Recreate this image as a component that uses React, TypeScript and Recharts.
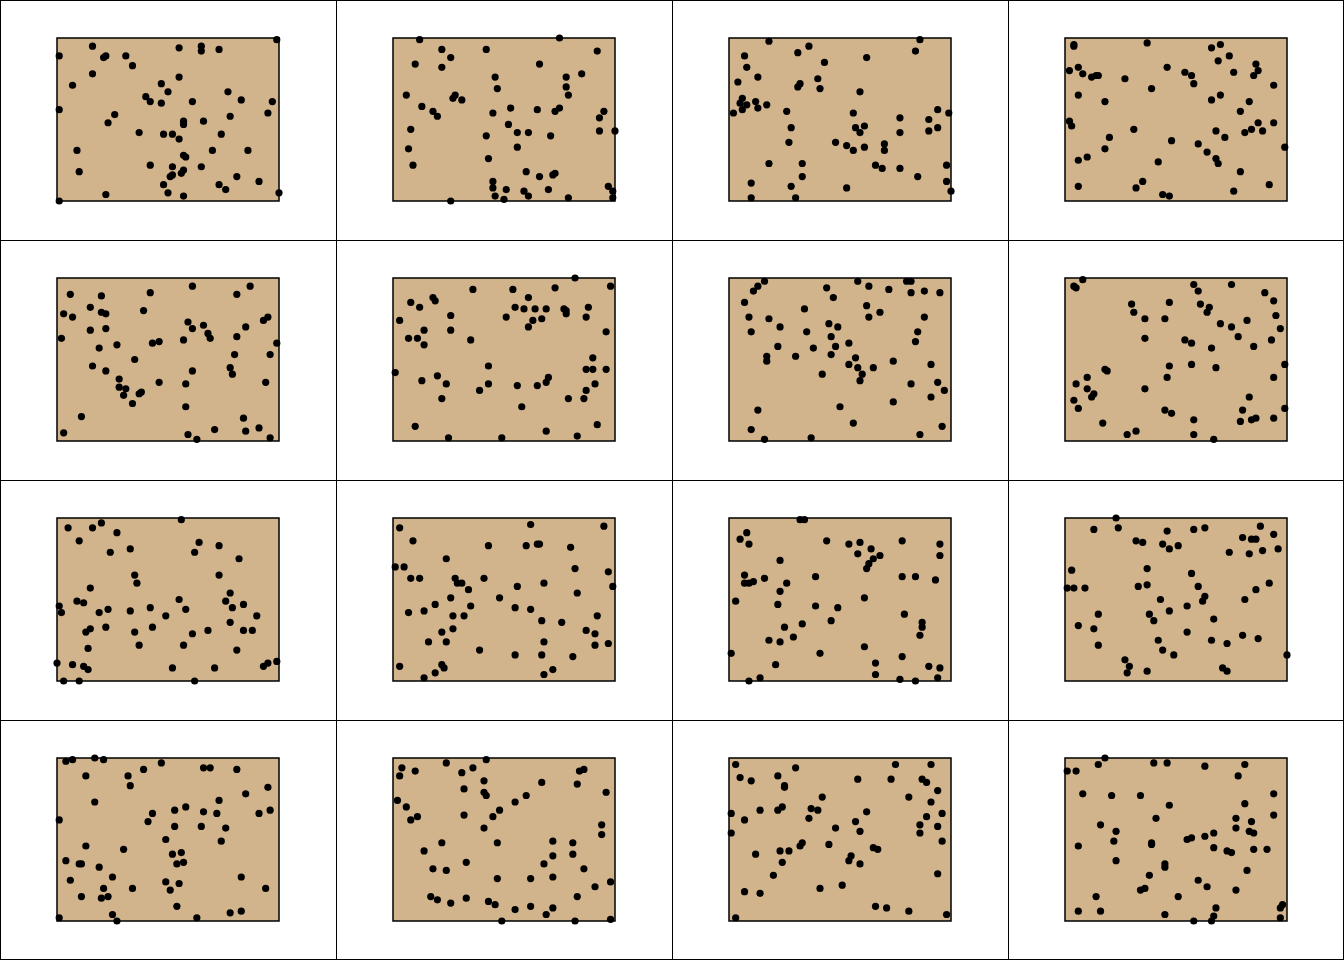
import React from 'react';
import { ReferenceArea, Scatter, ScatterChart, XAxis, YAxis } from 'recharts';

// points, x and y on a 0-100 scale
const panel1 = [
    [99, 99], [16, 95], [55, 94], [65, 95], [65, 92], [73, 93], [1, 89], [21, 88], [22, 89], [31, 89],
    [34, 83], [16, 78], [55, 76], [7, 71], [47, 72], [50, 67], [77, 67], [83, 62], [40, 64], [42, 61],
    [47, 60], [61, 61], [97, 61], [1, 56], [95, 54], [26, 53], [78, 52], [23, 48], [57, 49], [57, 47],
    [66, 49], [37, 42], [48, 41], [52, 41], [74, 41], [55, 38], [9, 31], [70, 31], [86, 31], [57, 28],
    [58, 27], [42, 22], [52, 21], [65, 21], [10, 18], [57, 19], [56, 17], [51, 15], [52, 16], [81, 15],
    [91, 12], [48, 10], [73, 10], [76, 7], [50, 5], [22, 4], [57, 3], [100, 5], [1, 0],
];
const panel2 = [
    [12, 99], [75, 100], [22, 93], [42, 93], [92, 92], [26, 88], [10, 84], [22, 82], [66, 84], [85, 78],
    [78, 76], [46, 76], [47, 69], [78, 70], [79, 65], [6, 65], [28, 65], [27, 63], [31, 62], [13, 58],
    [53, 57], [65, 56], [75, 57], [73, 55], [18, 55], [20, 52], [45, 54], [95, 55], [93, 51], [52, 47],
    [8, 44], [56, 42], [61, 42], [93, 43], [100, 43], [42, 40], [71, 40], [7, 32], [56, 33], [43, 26],
    [9, 22], [60, 18], [66, 15], [72, 16], [73, 17], [45, 12], [45, 8], [51, 7], [59, 6], [61, 3],
    [70, 7], [46, 3], [50, 1], [26, 0], [79, 2], [97, 9], [99, 6], [99, 2],
];
const panel3 = [
    [18, 98], [86, 99], [84, 92], [36, 95], [31, 91], [7, 89], [62, 88], [43, 85], [8, 82], [13, 76],
    [4, 73], [40, 75], [32, 72], [31, 70], [41, 69], [59, 67], [6, 63], [5, 60], [8, 59], [6, 56],
    [2, 54], [12, 61], [13, 57], [17, 59], [26, 55], [56, 54], [94, 56], [99, 54], [77, 51], [90, 50],
    [94, 45], [90, 43], [28, 45], [57, 45], [61, 46], [59, 42], [77, 42], [27, 36], [48, 36], [53, 34],
    [56, 31], [61, 33], [70, 35], [70, 31], [18, 23], [33, 23], [66, 22], [69, 20], [77, 20], [98, 22],
    [85, 15], [33, 15], [10, 11], [98, 12], [100, 6], [28, 9], [53, 8], [10, 2], [30, 2],
];
const panel4 = [
    [4, 96], [4, 95], [37, 97], [66, 94], [70, 96], [74, 89], [69, 86], [86, 84], [87, 80], [85, 77],
    [76, 79], [46, 82], [2, 80], [6, 82], [8, 78], [12, 76], [14, 77], [15, 77], [54, 79], [57, 77],
    [27, 75], [58, 72], [94, 71], [39, 69], [6, 65], [70, 65], [66, 62], [18, 61], [83, 61], [79, 55],
    [2, 49], [3, 46], [87, 48], [84, 44], [89, 43], [81, 42], [94, 48], [31, 44], [68, 43], [72, 39],
    [20, 39], [48, 37], [18, 32], [60, 35], [64, 30], [99, 33], [6, 25], [10, 27], [68, 26], [69, 23],
    [42, 24], [79, 18], [35, 12], [32, 8], [6, 9], [92, 10], [76, 6], [44, 4], [47, 3],
];
const panel5 = [
    [6, 90], [20, 89], [42, 91], [61, 95], [81, 90], [87, 95], [15, 82], [20, 79], [22, 78], [3, 78],
    [7, 76], [39, 80], [59, 73], [61, 69], [66, 71], [93, 74], [95, 76], [85, 70], [15, 68], [22, 69],
    [68, 66], [69, 63], [81, 64], [2, 63], [57, 62], [43, 60], [46, 61], [27, 59], [99, 60], [19, 57],
    [96, 53], [80, 53], [35, 50], [16, 46], [22, 43], [61, 43], [78, 45], [79, 41], [28, 38], [46, 36],
    [58, 35], [94, 36], [28, 33], [31, 32], [30, 28], [37, 29], [38, 30], [34, 23], [58, 21], [11, 15],
    [84, 14], [71, 7], [85, 6], [91, 8], [3, 5], [59, 4], [63, 1], [96, 2],
];
const panel6 = [
    [82, 100], [98, 95], [36, 93], [54, 93], [73, 94], [18, 88], [19, 86], [8, 85], [12, 82], [61, 88],
    [55, 82], [59, 81], [64, 81], [69, 81], [77, 81], [78, 80], [78, 78], [88, 82], [87, 76], [3, 74],
    [26, 77], [51, 76], [63, 74], [67, 75], [61, 70], [14, 68], [26, 68], [96, 67], [7, 63], [11, 63],
    [14, 59], [35, 62], [90, 51], [87, 44], [90, 44], [96, 44], [43, 46], [1, 42], [20, 40], [13, 37],
    [24, 35], [43, 35], [39, 31], [70, 39], [69, 36], [56, 34], [65, 34], [91, 35], [87, 31], [22, 26],
    [79, 26], [86, 26], [58, 21], [10, 9], [92, 10], [69, 6], [25, 2], [49, 2], [83, 3],
];
const panel7 = [
    [16, 98], [13, 95], [11, 92], [58, 98], [80, 98], [82, 98], [44, 94], [63, 95], [72, 93], [82, 91],
    [88, 92], [95, 91], [47, 88], [7, 85], [34, 81], [62, 83], [68, 79], [63, 76], [88, 76], [9, 76],
    [18, 75], [23, 70], [45, 72], [49, 70], [10, 67], [35, 67], [85, 67], [84, 61], [46, 64], [54, 60],
    [22, 58], [38, 57], [48, 58], [46, 53], [17, 52], [17, 49], [30, 52], [57, 51], [54, 47], [58, 45],
    [60, 41], [59, 37], [74, 49], [65, 45], [91, 47], [42, 41], [82, 35], [94, 36], [97, 31], [91, 27],
    [74, 24], [50, 21], [13, 19], [56, 11], [10, 7], [96, 9], [16, 1], [37, 2], [86, 4],
];
const panel8 = [
    [8, 99], [4, 95], [5, 94], [58, 96], [60, 92], [75, 96], [90, 91], [94, 86], [95, 77], [97, 69],
    [30, 84], [31, 79], [47, 85], [61, 84], [65, 82], [64, 79], [36, 75], [45, 75], [70, 72], [75, 70],
    [82, 74], [78, 64], [93, 62], [36, 63], [54, 62], [57, 60], [66, 57], [85, 58], [99, 47], [57, 47],
    [47, 46], [68, 45], [18, 44], [19, 43], [46, 39], [94, 39], [10, 39], [5, 35], [10, 32], [13, 29],
    [12, 27], [36, 32], [4, 25], [6, 20], [83, 27], [80, 19], [45, 19], [48, 17], [99, 20], [94, 14],
    [84, 13], [86, 14], [79, 12], [58, 13], [17, 11], [32, 6], [28, 4], [58, 4], [67, 1],
];
const panel9 = [
    [5, 94], [16, 94], [20, 97], [56, 99], [27, 91], [10, 86], [64, 85], [73, 83], [24, 79], [33, 81],
    [62, 79], [82, 75], [35, 65], [36, 60], [73, 65], [15, 57], [78, 54], [9, 49], [12, 48], [76, 49],
    [79, 45], [84, 47], [1, 46], [2, 42], [55, 50], [58, 44], [42, 45], [23, 44], [19, 42], [33, 43],
    [49, 40], [90, 40], [78, 36], [43, 33], [22, 33], [13, 30], [15, 32], [35, 30], [68, 31], [84, 31],
    [88, 31], [61, 29], [57, 22], [37, 22], [14, 20], [81, 19], [0, 11], [7, 10], [12, 9], [14, 7],
    [52, 8], [71, 8], [93, 9], [95, 11], [99, 12], [3, 0], [10, 0], [62, 0],
];
const panel10 = [
    [3, 94], [62, 96], [95, 95], [9, 86], [43, 83], [60, 83], [65, 84], [66, 84], [80, 82], [24, 75],
    [82, 69], [1, 70], [5, 70], [97, 67], [8, 63], [12, 63], [28, 63], [29, 60], [31, 60], [34, 56],
    [41, 63], [56, 58], [68, 60], [83, 54], [99, 58], [48, 51], [26, 51], [19, 47], [35, 46], [55, 45],
    [62, 44], [7, 42], [14, 43], [27, 40], [32, 40], [67, 37], [76, 36], [92, 40], [27, 32], [22, 30],
    [87, 31], [91, 29], [16, 24], [24, 24], [68, 24], [91, 22], [97, 23], [39, 19], [55, 16], [67, 16],
    [81, 15], [3, 9], [22, 10], [23, 8], [19, 5], [14, 2], [68, 4], [72, 7],
];
const panel11 = [
    [32, 99], [34, 99], [8, 91], [5, 87], [9, 84], [44, 86], [54, 84], [59, 85], [64, 81], [58, 78],
    [68, 77], [65, 75], [63, 72], [62, 69], [78, 86], [95, 84], [95, 77], [23, 74], [7, 65], [7, 60],
    [9, 60], [11, 61], [16, 63], [39, 64], [78, 64], [84, 64], [93, 62], [26, 60], [23, 55], [3, 49],
    [61, 51], [22, 47], [39, 46], [49, 45], [79, 41], [46, 37], [33, 35], [87, 36], [87, 33], [86, 28],
    [25, 33], [29, 27], [18, 25], [23, 24], [61, 21], [1, 17], [41, 17], [66, 11], [78, 15], [21, 10],
    [90, 9], [95, 8], [66, 4], [9, 0], [14, 2], [77, 1], [84, 0], [94, 2],
];
const panel12 = [
    [23, 100], [13, 93], [24, 94], [46, 92], [58, 93], [63, 94], [88, 95], [94, 90], [80, 88], [84, 87],
    [86, 87], [96, 81], [89, 80], [83, 78], [74, 79], [32, 86], [35, 85], [44, 84], [47, 81], [51, 83],
    [3, 68], [37, 69], [57, 66], [1, 57], [4, 57], [9, 57], [33, 58], [37, 59], [60, 58], [63, 52],
    [62, 49], [43, 50], [86, 56], [92, 60], [81, 50], [55, 46], [47, 43], [38, 41], [40, 37], [15, 41],
    [67, 38], [6, 34], [13, 32], [55, 30], [80, 28], [87, 26], [42, 25], [66, 25], [73, 23], [15, 22],
    [44, 19], [49, 16], [100, 16], [27, 13], [29, 9], [28, 5], [37, 6], [71, 8], [73, 6],
];
const panel13 = [
    [4, 98], [7, 99], [17, 100], [21, 99], [13, 89], [32, 89], [33, 83], [39, 93], [47, 97], [66, 94],
    [69, 94], [81, 93], [95, 82], [85, 78], [17, 73], [73, 74], [58, 70], [53, 68], [43, 66], [41, 61],
    [66, 67], [72, 66], [91, 66], [96, 68], [1, 62], [53, 58], [65, 58], [76, 57], [74, 49], [49, 50],
    [13, 46], [30, 44], [56, 42], [52, 41], [54, 35], [57, 36], [4, 37], [10, 35], [11, 35], [19, 33],
    [25, 27], [6, 25], [83, 27], [49, 24], [55, 23], [51, 19], [34, 20], [21, 20], [20, 14], [23, 15],
    [11, 15], [94, 20], [54, 9], [25, 4], [27, 0], [63, 2], [78, 5], [83, 6], [1, 2],
];
const panel14 = [
    [4, 94], [3, 89], [10, 92], [24, 97], [31, 91], [36, 94], [42, 99], [41, 86], [32, 81], [41, 79],
    [42, 77], [67, 85], [84, 92], [86, 93], [83, 84], [96, 79], [60, 77], [55, 73], [2, 74], [6, 70],
    [11, 64], [8, 62], [32, 65], [45, 64], [48, 68], [41, 57], [94, 59], [94, 53], [22, 48], [47, 48],
    [72, 49], [81, 48], [14, 43], [72, 40], [81, 41], [33, 36], [68, 35], [18, 32], [24, 31], [86, 32],
    [47, 26], [62, 26], [72, 27], [98, 24], [91, 21], [17, 15], [20, 13], [26, 11], [33, 14], [43, 12],
    [46, 10], [55, 7], [62, 9], [72, 8], [69, 4], [83, 15], [49, 0], [82, 0], [98, 1],
];
const panel15 = [
    [3, 96], [30, 94], [75, 96], [91, 96], [5, 88], [10, 86], [22, 89], [25, 83], [25, 82], [58, 87],
    [73, 87], [87, 87], [89, 85], [94, 80], [42, 76], [81, 76], [91, 73], [14, 68], [22, 68], [24, 70],
    [37, 69], [40, 68], [36, 63], [62, 67], [1, 66], [7, 62], [89, 64], [96, 66], [57, 61], [59, 55],
    [48, 57], [86, 59], [86, 54], [94, 58], [1, 54], [96, 49], [33, 48], [32, 46], [45, 47], [65, 45],
    [67, 44], [12, 41], [23, 43], [27, 43], [24, 36], [55, 40], [54, 37], [59, 35], [20, 28], [94, 29],
    [41, 20], [51, 22], [7, 18], [14, 17], [66, 9], [71, 8], [81, 6], [98, 4], [3, 2],
];
const panel16 = [
    [18, 100], [15, 96], [1, 92], [5, 92], [40, 97], [46, 97], [63, 95], [81, 96], [78, 89], [8, 78],
    [21, 77], [34, 77], [47, 71], [94, 78], [94, 65], [81, 72], [77, 63], [77, 57], [84, 61], [83, 55],
    [85, 54], [41, 63], [16, 59], [23, 55], [22, 49], [67, 54], [63, 52], [55, 50], [57, 51], [39, 48],
    [39, 47], [6, 46], [67, 45], [73, 43], [75, 42], [85, 44], [91, 44], [23, 37], [45, 35], [45, 33],
    [82, 31], [38, 28], [60, 25], [64, 21], [34, 19], [36, 20], [77, 19], [51, 15], [14, 15], [6, 6],
    [16, 6], [45, 4], [68, 8], [58, 0], [66, 0], [67, 3], [98, 10], [97, 8], [97, 2],
];

const PANELS = [
    panel1, panel2, panel3, panel4,
    panel5, panel6, panel7, panel8,
    panel9, panel10, panel11, panel12,
    panel13, panel14, panel15, panel16,
];

const CELL_W = 336;
const CELL_H = 240;

const Dot = (props: any) => <circle cx={props.cx} cy={props.cy} r={3.6} fill="#000" />;

function Panel({ points }: { points: number[][] }) {
    const data = points.map(([x, y]) => ({ x, y }));
    return (
        <ScatterChart width={CELL_W} height={CELL_H} margin={{ top: 38, right: 57, bottom: 39, left: 57 }}>
            <XAxis type="number" dataKey="x" domain={[0, 100]} hide />
            <YAxis type="number" dataKey="y" domain={[0, 100]} hide />
            <ReferenceArea x1={0} x2={100} y1={0} y2={100} fill="#D2B48C" fillOpacity={1} stroke="#000" strokeWidth={1.5} />
            <Scatter data={data} shape={<Dot />} isAnimationActive={false} />
        </ScatterChart>
    );
}

export default function App() {
    return (
        <div style={{ position: 'absolute', left: 0, top: 0, width: 1344, height: 960, background: '#fff' }}>
            {PANELS.map((pts, i) => (
                <div
                    key={i}
                    style={{
                        position: 'absolute',
                        left: (i % 4) * CELL_W,
                        top: Math.floor(i / 4) * CELL_H,
                        width: CELL_W,
                        height: CELL_H,
                    }}
                >
                    <Panel points={pts} />
                </div>
            ))}
            {[0, 1, 2, 3, 4].map((k) => (
                <div key={'v' + k} style={{ position: 'absolute', left: Math.min(k * CELL_W, 1343), top: 0, width: 1, height: 960, background: '#000' }} />
            ))}
            {[0, 1, 2, 3, 4].map((k) => (
                <div key={'h' + k} style={{ position: 'absolute', left: 0, top: Math.min(k * CELL_H, 959), width: 1344, height: 1, background: '#000' }} />
            ))}
        </div>
    );
}
